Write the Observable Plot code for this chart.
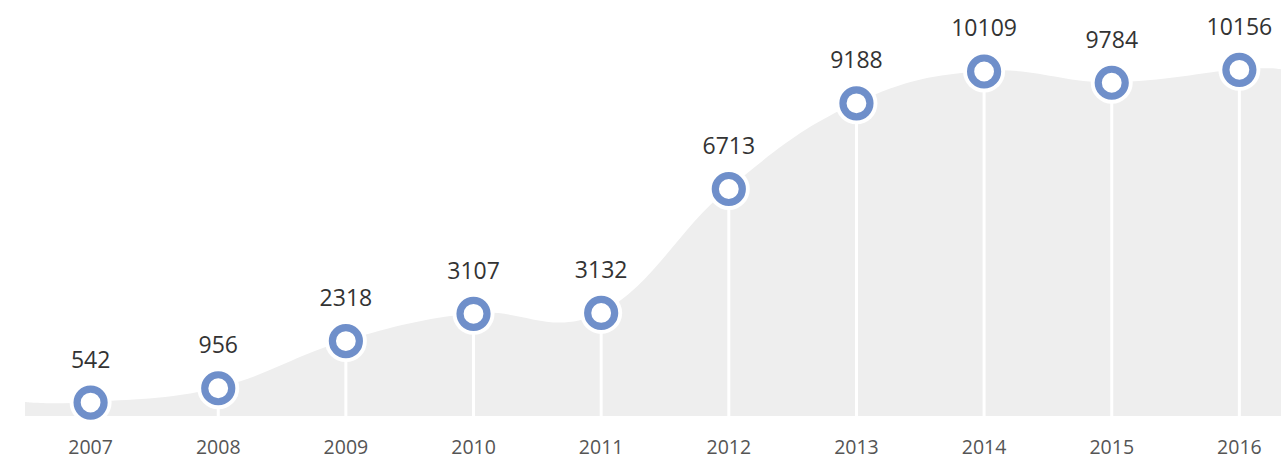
<!DOCTYPE html>
<html>
<head>
<meta charset="utf-8">
<script src="https://cdn.jsdelivr.net/npm/d3@7"></script>
<script src="https://cdn.jsdelivr.net/npm/@observablehq/plot@0.6"></script>
<style>
  html, body { margin: 0; padding: 0; background: #ffffff; }
  #chart svg { display: block; }
</style>
</head>
<body>
<div id="chart"></div>
<script>
const years = [2007, 2008, 2009, 2010, 2011, 2012, 2013, 2014, 2015, 2016];
const values = [542, 956, 2318, 3107, 3132, 6713, 9188, 10109, 9784, 10156];
const yearLabels = years.map(String);

const data = years.map((year, i) => ({year, value: values[i], label: String(values[i])}));
const xDomain = [2006.49, 2016.33];
const yDomain = [140, 12160];
const areaData = [
  {year: xDomain[0], value: values[0]},
  ...data,
  {year: xDomain[1], value: values[values.length - 1]}
];

const chart = Plot.plot({
  width: 1281,
  height: 461,
  marginLeft: 25,
  marginRight: 0,
  marginTop: 0,
  marginBottom: 45,
  x: {domain: xDomain, axis: null},
  y: {domain: yDomain, axis: null},
  style: {fontFamily: "'Open Sans', sans-serif", background: "#ffffff"},
  marks: [
    Plot.areaY(areaData, {x: "year", y1: yDomain[0], y2: "value", curve: "cardinal", tension: -0.2, fill: "#eeeeee"}),
    Plot.ruleX(data, {x: "year", y1: yDomain[0], y2: "value", stroke: "#ffffff", strokeWidth: 3}),
    Plot.dot(data, {x: "year", y: "value", r: 21, fill: "#ffffff", stroke: null}),
    Plot.dot(data, {x: "year", y: "value", r: 13.5, fill: "#ffffff", stroke: "#6f8fca", strokeWidth: 7.2}),
    Plot.text(data, {x: "year", y: "value", text: "label", dy: -35, lineAnchor: "bottom", fontSize: 23, fill: "#333333"}),
    Plot.axisX({ticks: years, tickSize: 0, tickPadding: 24, tickFormat: (d) => yearLabels[years.indexOf(d)], fontSize: 19.5, color: "#555555", label: null})
  ]
});
document.getElementById("chart").appendChild(chart);
</script>
</body>
</html>
